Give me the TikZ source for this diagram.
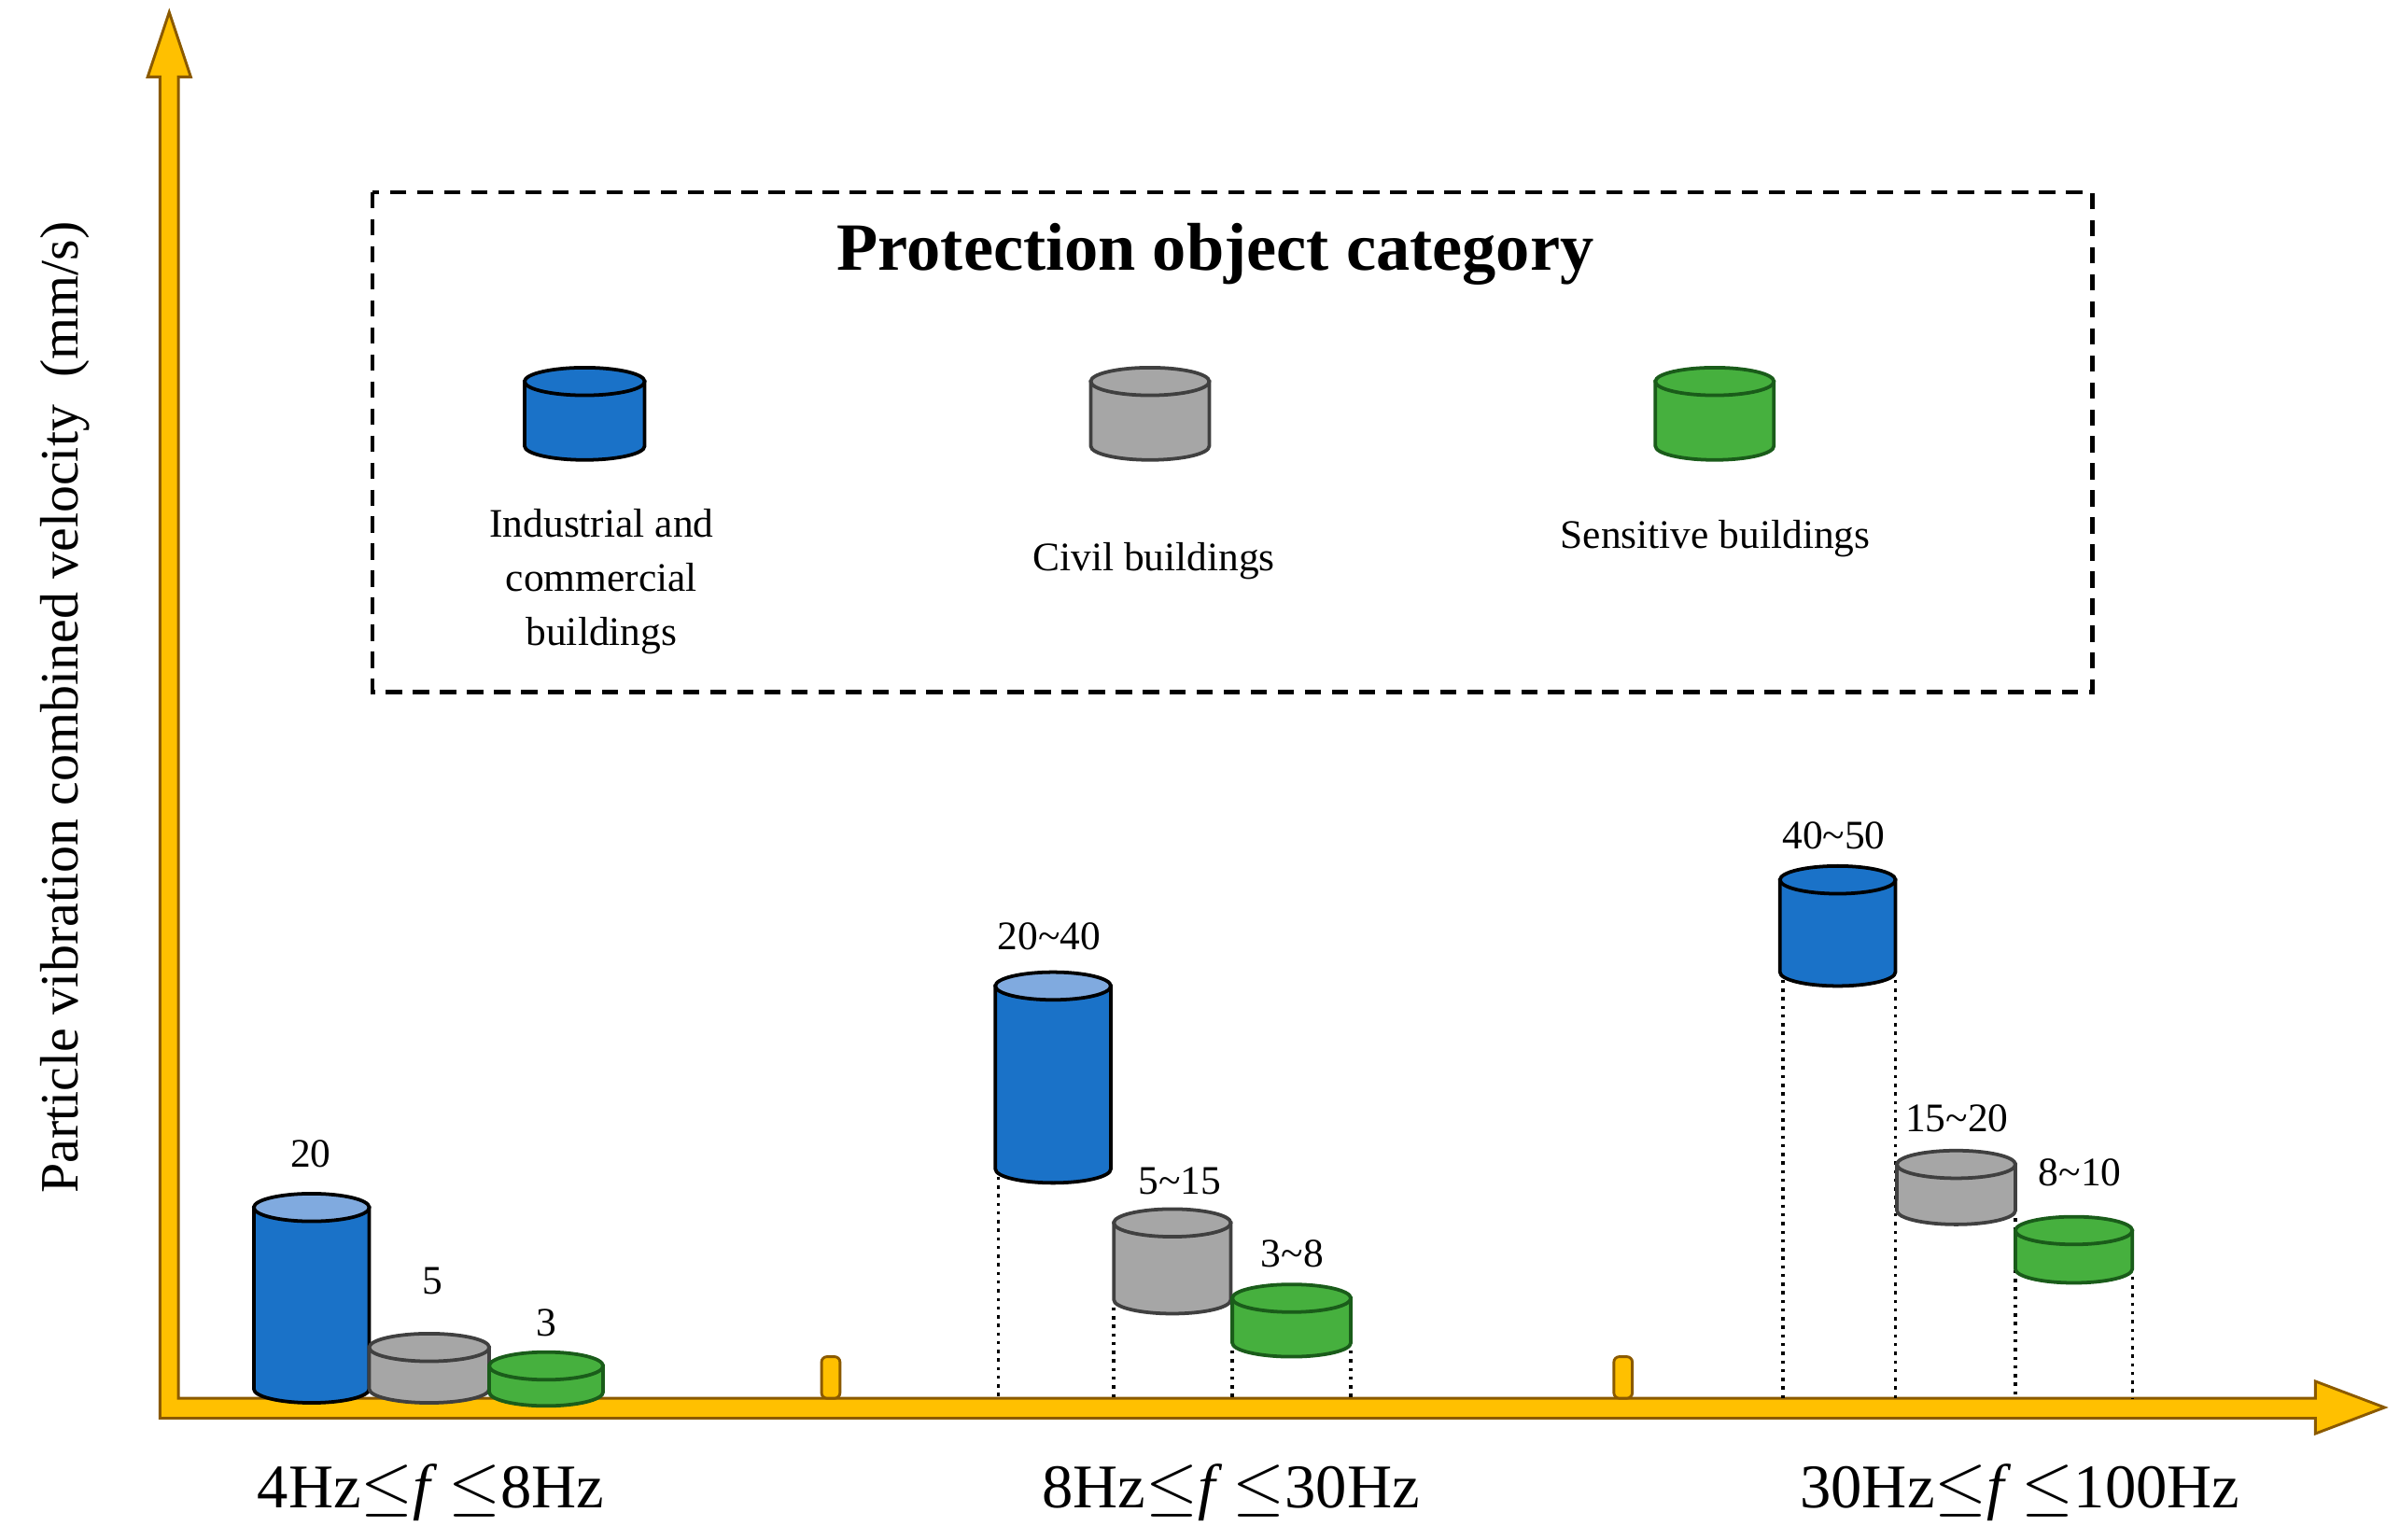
\documentclass[tikz,border=0pt]{standalone}
\usepackage{fontspec}
\setmainfont{Liberation Serif}
\definecolor{bl}{HTML}{1A72C8}
\definecolor{blt}{HTML}{80AADF}
\definecolor{gr}{HTML}{A6A6A6}
\definecolor{grd}{HTML}{404040}
\definecolor{gn}{HTML}{46B03E}
\definecolor{gnd}{HTML}{1A5C1A}
\definecolor{ax}{HTML}{FFC000}
\definecolor{axd}{HTML}{8B5A00}
\newcommand\mycyl[7]{% x1 x2 ytop ybot fill topfill draw
  \pgfmathsetmacro\rx{(#2-#1)/2}
  \filldraw[fill=#5,draw=#7,line width=1.3pt] (#1,#3) -- (#1,#4) arc[start angle=180,end angle=0,x radius=\rx,y radius=9] -- (#2,#3) -- cycle;
  \filldraw[fill=#6,draw=#7,line width=1.3pt] ({(#1+#2)/2},#3) ellipse[x radius=\rx,y radius=9];
}
\begin{document}
\begin{tikzpicture}[x=0.02cm,y=-0.02cm,
  val/.style={font=\fontsize{15}{18}\selectfont},
  leg/.style={font=\fontsize{15}{20}\selectfont,align=center},
  freq/.style={font=\fontsize{23}{26}\selectfont},
  dot/.style={dotted,line width=1.2pt}]
\useasboundingbox (0,0) rectangle (1560,1001);
% axes
\filldraw[fill=ax,draw=axd,line width=1pt] (104,922) -- (1505,922) -- (1505,932) -- (1550,915) -- (1505,898) -- (1505,909) -- (116,909) -- (116,50) -- (124,50) -- (110,8) -- (96,50) -- (104,50) -- cycle;
\foreach \x in {540,1055}
  \filldraw[fill=ax,draw=axd,line width=1pt,rounded corners=2pt] (\x-6,909) rectangle (\x+6,882);
\node[rotate=90,font=\fontsize{20}{24}\selectfont] (ylab) at (42,460) {Particle vibration combined velocity\ \ (mm/s)};
% legend
\draw[dashed,line width=1.6pt,dash pattern=on 6pt off 4pt] (242,125) rectangle (1360,450);
\node[font=\bfseries\fontsize{25}{30}\selectfont] (title) at (790,165) {Protection object category};
\mycyl{341}{419}{248}{290}{bl}{bl}{black}
\mycyl{709}{786}{248}{290}{gr}{gr}{grd}
\mycyl{1076}{1153}{248}{290}{gn}{gn}{gnd}
\node[leg] (l1) at (391,378) {Industrial and\\commercial\\buildings};
\node[leg] (l2) at (750,365) {Civil buildings};
\node[leg] (l3) at (1115,350) {Sensitive buildings};
% group 1
\mycyl{165}{240}{785}{903}{bl}{blt}{black}
\mycyl{240}{318}{876}{903}{gr}{gr}{grd}
\mycyl{318}{392}{888}{905}{gn}{gn}{gnd}
\node[val] at (202,750) {20};
\node[val] at (281,833) {5};
\node[val] at (355,860) {3};
% group 2
\foreach \x/\y in {649/765,724/850,801/878,878/878} \draw[dot] (\x,\y) -- (\x,909);
\mycyl{647}{722}{641}{760}{bl}{blt}{black}
\mycyl{724}{800}{795}{845}{gr}{gr}{grd}
\mycyl{801}{878}{844}{873}{gn}{gn}{gnd}
\node[val] at (682,609) {20\textasciitilde 40};
\node[val] at (767,768) {5\textasciitilde 15};
\node[val] at (840,815) {3\textasciitilde 8};
% group 3
\foreach \x/\y in {1159/637,1232/637,1310/792,1386/830} \draw[dot] (\x,\y) -- (\x,909);
\mycyl{1157}{1232}{572}{632}{bl}{bl}{black}
\mycyl{1233}{1310}{757}{787}{gr}{gr}{grd}
\mycyl{1310}{1386}{800}{825}{gn}{gn}{gnd}
\node[val] at (1192,543) {40\textasciitilde 50};
\node[val] at (1272,727) {15\textasciitilde 20};
\node[val] at (1352,762) {8\textasciitilde 10};
% frequency labels
\node[freq] (f1) at (280,970) {4Hz$\leq$\textit{f}\,$\leq$8Hz};
\node[freq] (f2) at (800,970) {8Hz$\leq$\textit{f}\,$\leq$30Hz};
\node[freq] (f3) at (1313,970) {30Hz$\leq$\textit{f}\,$\leq$100Hz};
\end{tikzpicture}
\end{document}
